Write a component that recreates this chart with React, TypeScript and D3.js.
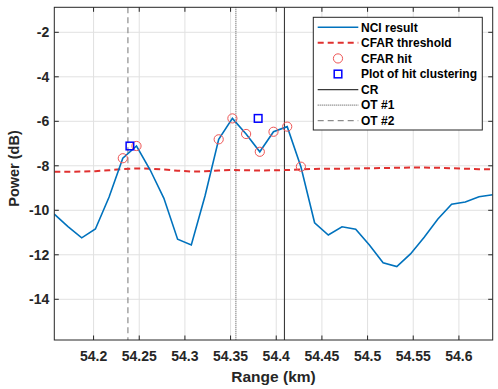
import React from "react";
import * as d3 from "d3";

// range samples (km): first bin + step
const rangeStart = 54.157;
const rangeStep = 0.015;

// NCI result (dB)
const nciPower = [
  -10.17, -10.73, -11.24, -10.84, -9.4, -7.66, -7.11, -8.19, -9.46, -11.3, -11.56,
  -9.36, -6.81, -5.87, -6.57, -7.37, -6.47, -6.24, -8.04, -10.56, -11.11, -10.74,
  -10.85, -11.56, -12.36, -12.53, -11.96, -11.21, -10.39, -9.73, -9.63, -9.39, -9.3,
];

// CFAR threshold (dB)
const cfarThreshold = [
  -8.27, -8.27, -8.26, -8.24, -8.2, -8.15, -8.12, -8.13, -8.17, -8.22, -8.26,
  -8.25, -8.21, -8.19, -8.2, -8.21, -8.2, -8.19, -8.16, -8.14, -8.13, -8.13,
  -8.12, -8.11, -8.1, -8.09, -8.08, -8.08, -8.09, -8.11, -8.13, -8.15, -8.16,
];

// indices flagged as CFAR hits
const hitIndex = [5, 6, 12, 13, 14, 15, 16, 17, 18];

// hit clustering plots
const clusterRange = [54.2398, 54.3802];
const clusterPower = [-7.11, -5.87];

// reference lines
const crRange = 54.409;
const ot1Range = 54.3558;
const ot2Range = 54.2376;

const xTicks = [54.2, 54.25, 54.3, 54.35, 54.4, 54.45, 54.5, 54.55, 54.6];
const xTickLabels = ["54.2", "54.25", "54.3", "54.35", "54.4", "54.45", "54.5", "54.55", "54.6"];
const yTicks = [-2, -4, -6, -8, -10, -12, -14];

const legendLabels = [
  "NCI result",
  "CFAR threshold",
  "CFAR hit",
  "Plot of hit clustering",
  "CR",
  "OT #1",
  "OT #2",
];

const W = 498;
const H = 389;
const margin = { left: 54.3, top: 7.3, right: 5.3, bottom: 49 };
const font = "'Liberation Sans', Arial, sans-serif";

export default function App() {
  const rangeKm = nciPower.map((_, i) => rangeStart + i * rangeStep);

  const x = d3
    .scaleLinear()
    .domain([rangeStart, rangeKm[rangeKm.length - 1]])
    .range([margin.left, W - margin.right]);
  const y = d3
    .scaleLinear()
    .domain([-15.83, -0.876])
    .range([H - margin.bottom, margin.top]);

  const line = d3
    .line<number>()
    .x((_, i) => x(rangeKm[i]))
    .y((d) => y(d));

  const x0 = margin.left;
  const x1 = W - margin.right;
  const y0 = margin.top;
  const y1 = H - margin.bottom;

  const blue = "#0072BD";
  const red = "#E0302F";
  const axisColor = "#262626";

  // legend layout
  const lgX = 313.3;
  const lgY = 17.3;
  const lgW = 169;
  const lgH = 112.7;
  const rowY = (i: number) => 27.3 + i * 15.57;
  const sx0 = 317.7;
  const sx1 = 358.3;
  const sxm = (sx0 + sx1) / 2;

  return (
    <svg
      width={W}
      height={H}
      style={{ position: "absolute", left: 0, top: 0, background: "#fff" }}
      fontFamily={font}
    >
      <rect x={x0} y={y0} width={x1 - x0} height={y1 - y0} fill="#fff" />
      {/* grid */}
      <g stroke="#e1e1e1" strokeWidth={1}>
        {xTicks.map((t) => (
          <line key={"gx" + t} x1={x(t)} x2={x(t)} y1={y0} y2={y1} />
        ))}
        {yTicks.map((t) => (
          <line key={"gy" + t} x1={x0} x2={x1} y1={y(t)} y2={y(t)} />
        ))}
      </g>

      <defs>
        <clipPath id="plotArea">
          <rect x={x0} y={y0} width={x1 - x0} height={y1 - y0} />
        </clipPath>
      </defs>

      <g clipPath="url(#plotArea)">
        {/* reference lines */}
        <line x1={x(ot2Range)} x2={x(ot2Range)} y1={y0} y2={y1} stroke="#8c8c8c" strokeWidth={1.2} strokeDasharray="6,4" />
        <line x1={x(ot1Range)} x2={x(ot1Range)} y1={y0} y2={y1} stroke="#6b6b6b" strokeWidth={1.2} strokeDasharray="1,1" />
        <line x1={x(crRange)} x2={x(crRange)} y1={y0} y2={y1} stroke="#3a3a3a" strokeWidth={1.1} />

        <path d={line(cfarThreshold) || ""} fill="none" stroke={red} strokeWidth={2} strokeDasharray="6,4" />
        <path d={line(nciPower) || ""} fill="none" stroke={blue} strokeWidth={1.6} />

        {hitIndex.map((i) => (
          <circle key={"h" + i} cx={x(rangeKm[i])} cy={y(nciPower[i])} r={4.6} fill="none" stroke="#EE5555" strokeWidth={1} />
        ))}
        {clusterRange.map((r, i) => (
          <rect key={"c" + i} x={x(r) - 3.8} y={y(clusterPower[i]) - 3.8} width={7.6} height={7.6} fill="none" stroke="#0000FF" strokeWidth={1.5} />
        ))}
      </g>

      {/* axes box and ticks */}
      <rect x={x0} y={y0} width={x1 - x0} height={y1 - y0} fill="none" stroke={axisColor} strokeWidth={1} />
      <g stroke={axisColor} strokeWidth={1}>
        {xTicks.map((t) => (
          <g key={"tx" + t}>
            <line x1={x(t)} x2={x(t)} y1={y1} y2={y1 - 4.5} />
            <line x1={x(t)} x2={x(t)} y1={y0} y2={y0 + 4.5} />
          </g>
        ))}
        {yTicks.map((t) => (
          <g key={"ty" + t}>
            <line x1={x0} x2={x0 + 4.5} y1={y(t)} y2={y(t)} />
            <line x1={x1} x2={x1 - 4.5} y1={y(t)} y2={y(t)} />
          </g>
        ))}
      </g>
      <g fontSize={14} fontWeight="bold" fill="#262626">
        {xTicks.map((t, i) => (
          <text key={"lx" + t} x={x(t)} y={360.7} textAnchor="middle">
            {xTickLabels[i]}
          </text>
        ))}
        {yTicks.map((t) => (
          <text key={"ly" + t} x={49.3} y={y(t)} dy="0.35em" textAnchor="end">
            {t}
          </text>
        ))}
      </g>
      <text x={(x0 + x1) / 2} y={381.7} textAnchor="middle" fontSize={15.5} fontWeight="bold" fill="#262626">
        Range (km)
      </text>
      <text
        transform={`translate(19.3,168.5) rotate(-90)`}
        textAnchor="middle"
        fontSize={14.5}
        fontWeight="bold"
        fill="#262626"
      >
        Power (dB)
      </text>

      {/* legend */}
      <rect x={lgX} y={lgY} width={lgW} height={lgH} fill="#fff" stroke={axisColor} strokeWidth={1} />
      <line x1={sx0} x2={sx1} y1={rowY(0)} y2={rowY(0)} stroke={blue} strokeWidth={1.6} />
      <line x1={sx0} x2={sx1} y1={rowY(1)} y2={rowY(1)} stroke={red} strokeWidth={2} strokeDasharray="6,4" />
      <circle cx={sxm} cy={rowY(2)} r={4.6} fill="none" stroke="#EE5555" strokeWidth={1} />
      <rect x={sxm - 3.8} y={rowY(3) - 3.8} width={7.6} height={7.6} fill="none" stroke="#0000FF" strokeWidth={1.5} />
      <line x1={sx0} x2={sx1} y1={rowY(4)} y2={rowY(4)} stroke="#3a3a3a" strokeWidth={1.1} />
      <line x1={sx0} x2={sx1} y1={rowY(5)} y2={rowY(5)} stroke="#6b6b6b" strokeWidth={1.2} strokeDasharray="1,1" />
      <line x1={sx0} x2={sx1} y1={rowY(6)} y2={rowY(6)} stroke="#8c8c8c" strokeWidth={1.2} strokeDasharray="6,4" />
      <g fontSize={12} fontWeight="bold" fill="#000">
        {legendLabels.map((l, i) => (
          <text key={l} x={361} y={rowY(i)} dy="0.35em">
            {l}
          </text>
        ))}
      </g>
    </svg>
  );
}
